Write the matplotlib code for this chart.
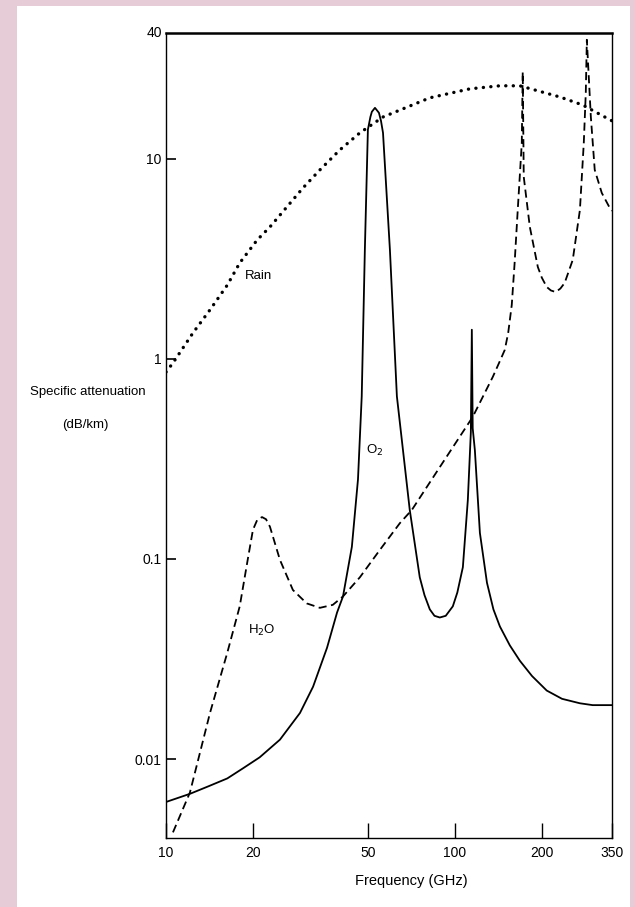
import matplotlib
matplotlib.use("Agg")
import matplotlib.pyplot as plt
from matplotlib.patches import Rectangle

# ==============================
# DATA
# ==============================

o2_freq = [10.0, 12.1, 14.0, 16.3, 18.5, 21.1, 24.8, 29.1, 32.3, 36.1, 39.1, 41.0,
           44.0, 46.2, 47.6, 48.8, 50.0, 51.0, 51.6, 52.9, 54.6, 55.5, 56.4, 59.6,
           63.0, 69.8, 75.6, 78.5, 81.9, 85.0, 88.7, 93.0, 98.4, 102.0, 106.6,
           110.9, 113.6, 114.5, 115.3, 117.3, 122.1, 129.2, 136.0, 143.2, 155.0,
           167.9, 185.0, 208.0, 235.0, 271.0, 300.0, 350.0]
o2_att = [0.0061, 0.0067, 0.0073, 0.0080, 0.0090, 0.0102, 0.0125, 0.017, 0.023,
          0.036, 0.054, 0.065, 0.115, 0.25, 0.65, 3.5, 14.0, 16.2, 17.2, 18.0,
          17.0, 15.5, 13.5, 3.5, 0.65, 0.176, 0.081, 0.066, 0.056, 0.052, 0.051,
          0.052, 0.058, 0.068, 0.091, 0.197, 0.43, 1.40, 0.45, 0.35, 0.135, 0.076,
          0.056, 0.046, 0.037, 0.031, 0.026, 0.022, 0.020, 0.019, 0.0186, 0.0186]

h2o_freq = [10.57, 12.1, 14.2, 16.3, 18.0, 19.2, 20.0, 20.7, 21.5, 22.2, 22.9,
            24.8, 27.5, 30.7, 34.1, 37.8, 41.0, 46.9, 55.0, 64.5, 71.0, 88.7,
            115.3, 135.3, 142.0, 148.9, 153.0, 157.4, 161.0, 165.1, 170.5, 171.8,
            173.2, 181.8, 193.8, 200.0, 208.0, 215.0, 223.5, 232.0, 240.0, 256.0,
            271.0, 279.5, 284.0, 286.4, 295.7, 305.0, 322.6, 343.8, 350.0]
h2o_att = [0.0043, 0.0068, 0.017, 0.034, 0.058, 0.100, 0.140, 0.157, 0.162, 0.158,
           0.145, 0.099, 0.070, 0.060, 0.057, 0.059, 0.065, 0.081, 0.111, 0.151,
           0.176, 0.288, 0.513, 0.813, 0.95, 1.11, 1.35, 1.86, 3.0, 5.56, 12.0,
           27.2, 8.13, 4.57, 2.88, 2.55, 2.29, 2.2, 2.16, 2.25, 2.40, 3.13, 5.56,
           12.0, 21.4, 39.4, 16.2, 8.81, 6.76, 5.69, 5.5]

rain_freq = [10.0, 10.57, 12.4, 14.2, 16.3, 18.0, 20.7, 22.9, 26.2, 29.8, 34.1,
             40.0, 46.9, 56.4, 81.9, 112.7, 143.0, 167.9, 231.0, 277.0, 344.0, 350.0]
rain_att = [0.86, 0.955, 1.35, 1.76, 2.34, 3.02, 3.94, 4.57, 5.75, 7.16, 8.81,
            11.1, 13.5, 16.2, 20.2, 22.4, 23.2, 23.2, 20.4, 18.6, 15.7, 15.5]

x_ticks = [10, 20, 50, 100, 200, 350]
x_tick_labels = ["10", "20", "50", "100", "200", "350"]
y_ticks = [0.01, 0.1, 1, 10]
y_tick_labels = ["0.01", "0.1", "1", "10"]

# ==============================
# FIGURE
# ==============================

plt.rcParams["font.family"] = ["Liberation Sans Narrow", "Liberation Sans", "DejaVu Sans"]

W, H = 635, 907
fig = plt.figure(figsize=(W / 100, H / 100), dpi=100)
fig.patch.set_facecolor("#e6ccd6")

# white paper on pink backdrop
fig.patches.append(Rectangle((17 / W, 0), (630 - 17) / W, 1 - 6 / H,
                             transform=fig.transFigure, facecolor="white",
                             edgecolor="none", zorder=-5))

ax = fig.add_axes([166 / W, 1 - 838 / H, (612 - 166) / W, (838 - 33) / H])
ax.set_facecolor("white")
ax.set_xscale("log")
ax.set_yscale("log")
ax.set_xlim(10, 350)
ax.set_ylim(0.00403, 42.6)

ax.plot(o2_freq, o2_att, color="black", lw=1.3, solid_joinstyle="round")
ax.plot(h2o_freq, h2o_att, color="black", lw=1.3, linestyle=(0, (4.5, 2.5)))
ax.plot(rain_freq, rain_att, color="black", lw=2.4, linestyle=(0, (0.05, 2.2)),
        dash_capstyle="round")

ax.text(18.8, 2.6, "Rain", fontsize=9.5, ha="left", va="center")
ax.text(49.2, 0.35, "O$_2$", fontsize=9.5, ha="left", va="center")
ax.text(19.3, 0.044, "H$_2$O", fontsize=9.5, ha="left", va="center")

ax.set_xticks(x_ticks)
ax.set_xticklabels(x_tick_labels)
ax.set_yticks(y_ticks)
ax.set_yticklabels(y_tick_labels)
ax.minorticks_off()
ax.tick_params(axis="x", direction="in", length=11, width=1.0, labelsize=10, pad=6)
ax.tick_params(axis="y", direction="in", length=7, width=1.2, labelsize=10, pad=3)
ax.text(-0.008, 1.0, "40", transform=ax.transAxes, ha="right", va="center", fontsize=10)

for side in ["left", "right", "bottom"]:
    ax.spines[side].set_linewidth(1.0)
ax.spines["top"].set_linewidth(1.8)

ax.set_xlabel("Frequency (GHz)", fontsize=10.5, labelpad=10)
ax.xaxis.label.set_x((411 - 166) / (612 - 166))
fig.text(88 / W, 1 - 392 / H, "Specific attenuation", fontsize=9.5, ha="center", va="center")
fig.text(85 / W, 1 - 425 / H, "(dB/km)", fontsize=9.5, ha="center", va="center")

fig.savefig("out.png", dpi=100, facecolor=fig.get_facecolor())
